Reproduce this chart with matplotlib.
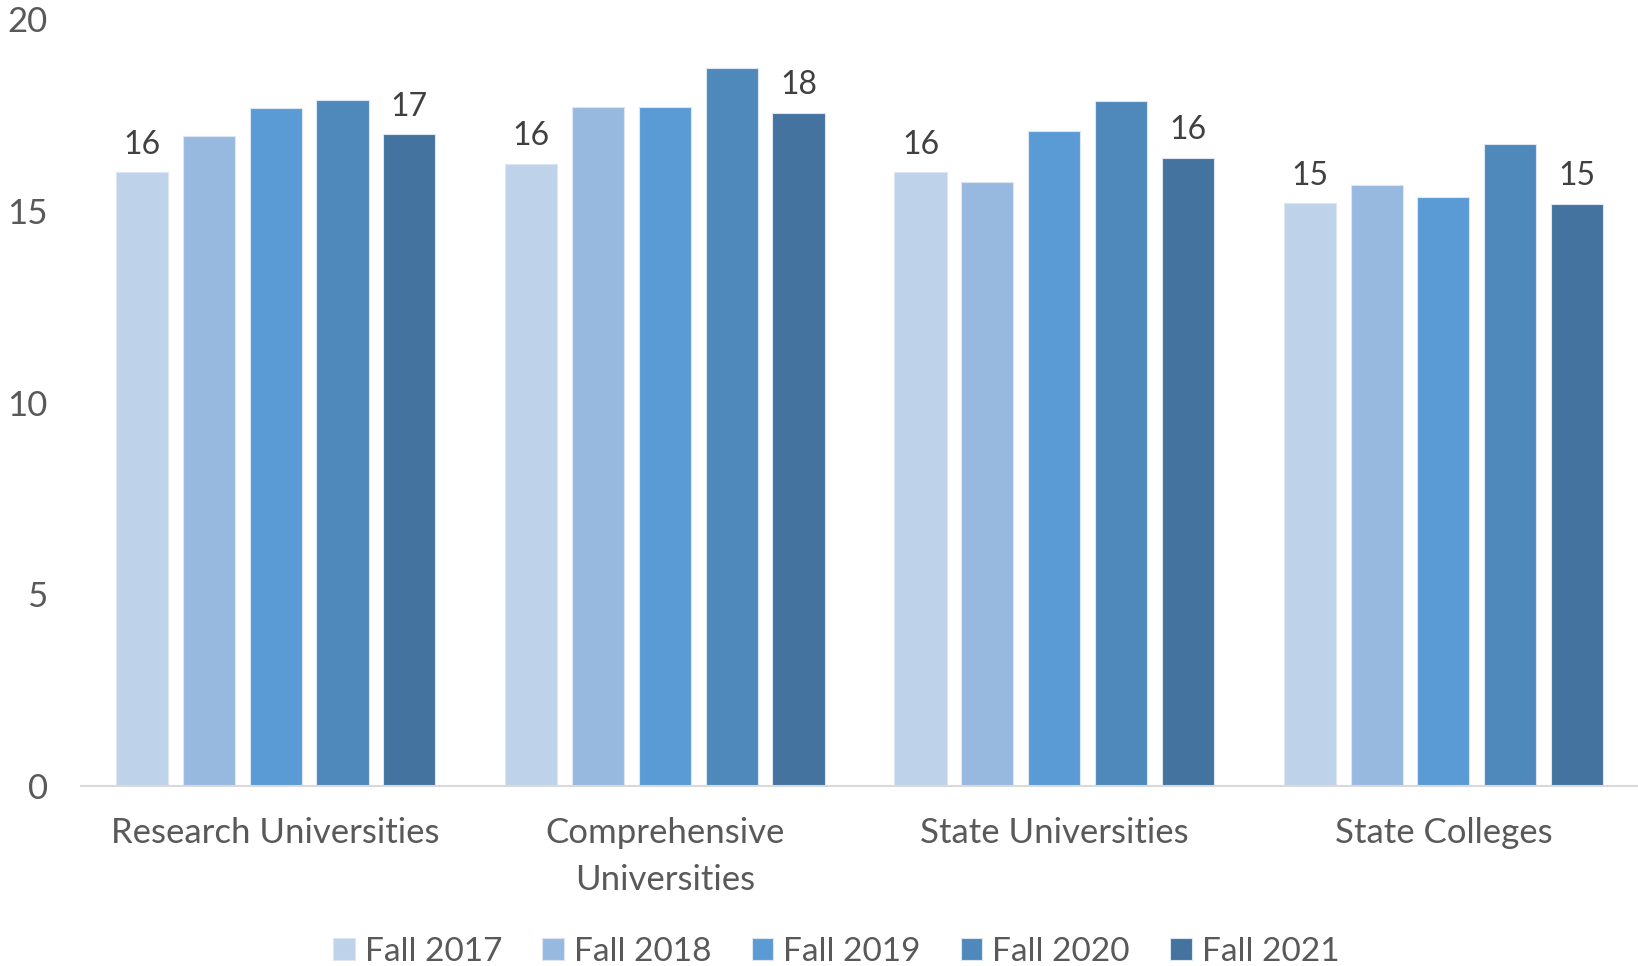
import numpy as np
import matplotlib
matplotlib.use('Agg')
import matplotlib.pyplot as plt

plt.rcParams['font.family'] = ['Lato', 'DejaVu Sans']

# data
categories = ['Research Universities', 'Comprehensive\nUniversities', 'State Universities', 'State Colleges']
series = ['Fall 2017', 'Fall 2018', 'Fall 2019', 'Fall 2020', 'Fall 2021']
fall_2017 = [16.01, 16.22, 16.00, 15.20]
fall_2018 = [16.96, 17.70, 15.75, 15.68]
fall_2019 = [17.69, 17.71, 17.09, 15.36]
fall_2020 = [17.89, 18.72, 17.85, 16.74]
fall_2021 = [17.00, 17.55, 16.38, 15.18]
values = [fall_2017, fall_2018, fall_2019, fall_2020, fall_2021]
labelled = ['Fall 2017', 'Fall 2021']

colors = ['#BED2EA', '#98B9DF', '#5B9BD5', '#4F89BB', '#44739F']

fig = plt.figure(figsize=(16.38, 9.66), dpi=100)
ax = fig.add_axes([0.0495, 0.1863, 0.9505, 0.794])

x = np.arange(len(categories))
step = 0.1716
width = 0.134
for i, (name, vals) in enumerate(zip(series, values)):
    bars = ax.bar(x + (i - 2) * step, vals, width, color=colors[i], label=name,
                  edgecolor='#DCE6F2', linewidth=0.8)
    if name in labelled:
        ax.bar_label(bars, labels=[f'{v:.0f}' for v in vals], padding=9,
                     fontsize=23, color='#404040')

ax.set_xlim(-0.5, 3.5)
ax.set_ylim(0, 20)
ax.set_yticks([0, 5, 10, 15, 20])
ax.set_xticks(x)
ax.set_xticklabels(categories, fontsize=25, color='#595959', linespacing=1.6)
ax.tick_params(axis='y', labelsize=25, labelcolor='#595959', length=0, pad=24)
ax.tick_params(axis='x', length=0, pad=22)
for s in ['top', 'right', 'left']:
    ax.spines[s].set_visible(False)
ax.spines['bottom'].set_color('#D9D9D9')
ax.spines['bottom'].set_linewidth(1.5)

ax.legend(loc='lower center', bbox_to_anchor=(0.485, -0.275), ncol=5, frameon=False,
          fontsize=24, labelcolor='#595959', handlelength=0.65, handleheight=0.65,
          handletextpad=0.3, columnspacing=1.2)

fig.savefig('out.png', dpi=100)
